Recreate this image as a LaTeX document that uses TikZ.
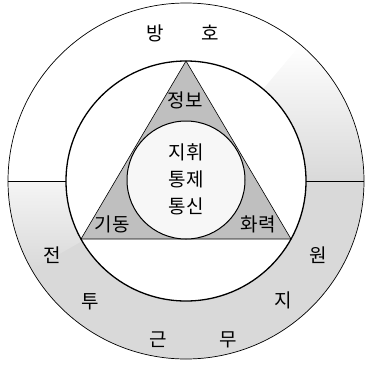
\documentclass[tikz,border=0pt]{standalone}
\usepackage{fontspec}
\newfontfamily\kr{Noto Sans CJK KR}
\usepackage{tikz}
\usetikzlibrary{positioning,calc}

\begin{document}
\begin{tikzpicture}[x=1pt,y=-1pt,
    lbl/.style={font=\kr\fontsize{19}{19}\selectfont,inner sep=0pt},
    ringfill/.style={fill=gray!30},
    trifill/.style={fill=gray!50}]
\useasboundingbox (0,0) rectangle (367,365);

% lower ring (support)
\fill[ringfill] (8,181) arc[start angle=180,end angle=0,radius=178]
    -- (306,181) arc[start angle=0,end angle=180,radius=120] -- cycle;
\shade[top color=white,bottom color=gray!30] (364,181) arc[start angle=0,end angle=-50,radius=178]
    -- (263.1,89.1) arc[start angle=-50,end angle=0,radius=120] -- cycle;
\shade[top color=gray!8,bottom color=gray!30] (8,181) arc[start angle=180,end angle=150,radius=178]
    -- (82.1,241) arc[start angle=150,end angle=180,radius=120] -- cycle;

% triangle and centre circle
\filldraw[trifill,line width=0.6pt] (186,61) -- (81,239) -- (291,239) -- cycle;
\filldraw[fill=gray!6,line width=1pt] (186,180) circle[radius=59];

% rings
\draw[line width=0.7pt] (186,181) circle[radius=178];
\draw[line width=1.3pt] (186,181) circle[radius=120];
\draw[line width=0.6pt] (8,181) -- (66,181);
\draw[line width=0.6pt] (306,181) -- (364,181);

% labels
\foreach \t/\x/\y/\n in {방/155/33/bang,호/210/33/ho,전/52/255/jeon,투/90/302/tu,
    근/158/340/geun,무/228/340/mu,지/283/300/ji,원/318/255/won} {
    \node[lbl] (\n) at (\x,\y) {\t};
}
\node[lbl] (jeongbo) at (185,100) {정보};
\node[lbl] (gidong) at (112,224) {기동};
\node[lbl] (hwaryeok) at (258,224) {화력};
\node[lbl] (jihwi) at (186,152) {지휘};
\node[lbl] (tongje) at (186,179) {통제};
\node[lbl] (tongsin) at (186,206) {통신};

\end{tikzpicture}
\end{document}
